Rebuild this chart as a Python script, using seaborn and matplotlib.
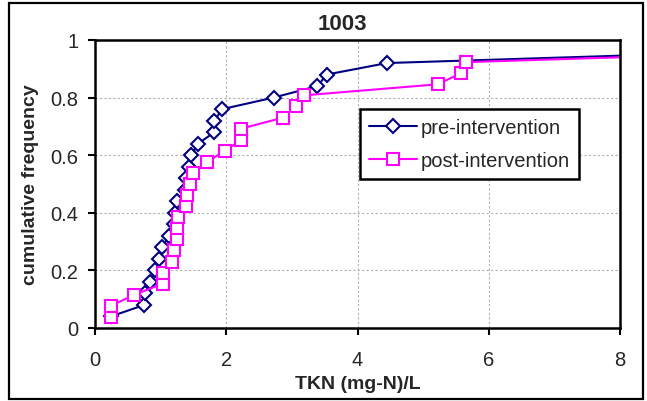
import numpy as np
import pandas as pd
import matplotlib
matplotlib.use("Agg")
import matplotlib.pyplot as plt
import seaborn as sns
from matplotlib.ticker import FuncFormatter

# TKN values (last points lie beyond the x range)
pre_tkn = [0.24, 0.75, 0.76, 0.84, 0.92, 0.98, 1.02, 1.13, 1.20, 1.22,
           1.25, 1.37, 1.38, 1.43, 1.47, 1.57, 1.82, 1.82, 1.94, 2.72,
           3.39, 3.53, 4.45, 10.0, 12.0]
post_tkn = [0.24, 0.24, 0.60, 1.03, 1.03, 1.17, 1.20, 1.25, 1.25, 1.27,
            1.38, 1.40, 1.44, 1.49, 1.71, 1.98, 2.23, 2.23, 2.87, 3.07,
            3.18, 5.22, 5.58, 5.65, 11.0, 13.0]

pre_freq = [(i + 1) / len(pre_tkn) for i in range(len(pre_tkn))]
post_freq = [(i + 1) / len(post_tkn) for i in range(len(post_tkn))]

pre_df = pd.DataFrame({"TKN": pre_tkn, "freq": pre_freq})
post_df = pd.DataFrame({"TKN": post_tkn, "freq": post_freq})

sns.set_style("white")
plt.rcParams["font.family"] = ["Liberation Sans", "DejaVu Sans"]

fig = plt.figure(figsize=(6.47, 4.02), dpi=100)
ax = fig.add_axes([95 / 647, 1 - 329 / 402, 525 / 647, 288 / 402])

navy = "#000080"
magenta = "#FF00FF"

sns.lineplot(data=pre_df, x="TKN", y="freq", ax=ax, estimator=None, sort=False,
             color=navy, lw=1.5, marker="D", ms=7, mfc="white", mec=navy, mew=1.5,
             label="pre-intervention")
sns.lineplot(data=post_df, x="TKN", y="freq", ax=ax, estimator=None, sort=False,
             color=magenta, lw=1.5, marker="s", ms=8, mfc="white", mec=magenta, mew=1.5,
             label="post-intervention")

ax.set_xlim(0, 8)
ax.set_ylim(0, 1)
ax.set_xticks([0, 2, 4, 6, 8])
ax.set_yticks([0, 0.2, 0.4, 0.6, 0.8, 1.0])
ax.yaxis.set_major_formatter(FuncFormatter(lambda v, p: f"{v:g}"))
ax.grid(True, color="#b0b0b0", linestyle=(0, (2, 2)), lw=0.8)
for s in ax.spines.values():
    s.set_color("black")
    s.set_linewidth(1.8)
ax.tick_params(axis="both", which="major", direction="out", length=5, width=1.5,
               color="black", labelsize=14.5, bottom=True, left=True)
ax.tick_params(axis="x", pad=11)
ax.tick_params(axis="y", pad=7)

ax.set_xlabel("TKN (mg-N)/L", fontsize=14, fontweight="bold", labelpad=4)
ax.set_ylabel("cumulative frequency", fontsize=14, fontweight="bold", labelpad=8)
fig.text(342 / 647, 1 - 24 / 402, "1003", fontsize=16, fontweight="bold",
         ha="center", va="center")

leg = ax.legend(loc="upper left", bbox_to_anchor=((360 - 95) / 525, (329 - 110) / 288),
                fontsize=14.5, frameon=True, fancybox=False, borderaxespad=0,
                handlelength=2.4, borderpad=0.45, labelspacing=0.7, handletextpad=0.15)
leg.get_frame().set_edgecolor("black")
leg.get_frame().set_linewidth(1.8)
leg.get_frame().set_alpha(1)

# outer chart border
fig.patches.append(plt.Rectangle((9 / 647, 1 - 400 / 402), 634 / 647, 396 / 402,
                                 transform=fig.transFigure, fill=False,
                                 edgecolor="black", lw=1.6))

fig.savefig("out.png", dpi=100)
